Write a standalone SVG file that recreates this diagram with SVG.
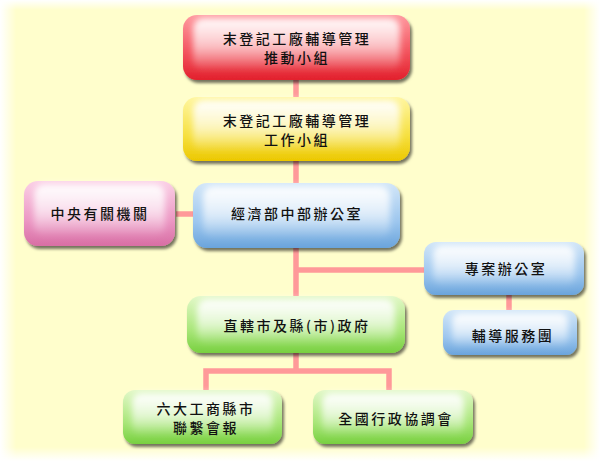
<svg xmlns="http://www.w3.org/2000/svg" width="600" height="461" viewBox="0 0 600 461">
<defs>
<linearGradient id="bgL" x1="0" y1="0" x2="1" y2="0"><stop offset="0" stop-color="#fff" stop-opacity="1"/><stop offset="1" stop-color="#fff" stop-opacity="0"/></linearGradient>
<linearGradient id="bgR" x1="1" y1="0" x2="0" y2="0"><stop offset="0" stop-color="#fff" stop-opacity="1"/><stop offset="1" stop-color="#fff" stop-opacity="0"/></linearGradient>
<linearGradient id="bgT" x1="0" y1="0" x2="0" y2="1"><stop offset="0" stop-color="#fff" stop-opacity="1"/><stop offset="1" stop-color="#fff" stop-opacity="0"/></linearGradient>
<linearGradient id="bgB" x1="0" y1="1" x2="0" y2="0"><stop offset="0" stop-color="#fff" stop-opacity="1"/><stop offset="1" stop-color="#fff" stop-opacity="0"/></linearGradient>
<linearGradient id="gRed" x1="0" y1="0" x2="0" y2="1"><stop offset="0" stop-color="#ff9aa0"/><stop offset="0.6" stop-color="#f2505a"/><stop offset="1" stop-color="#e2202c"/></linearGradient>
<linearGradient id="gYel" x1="0" y1="0" x2="0" y2="1"><stop offset="0" stop-color="#fff6a0"/><stop offset="0.6" stop-color="#f6e040"/><stop offset="1" stop-color="#ecc800"/></linearGradient>
<linearGradient id="gPink" x1="0" y1="0" x2="0" y2="1"><stop offset="0" stop-color="#fbd0e6"/><stop offset="0.6" stop-color="#ec98c4"/><stop offset="1" stop-color="#d86ea4"/></linearGradient>
<linearGradient id="gBlue" x1="0" y1="0" x2="0" y2="1"><stop offset="0" stop-color="#d2e6f8"/><stop offset="0.6" stop-color="#9cc6ee"/><stop offset="1" stop-color="#6aa4dc"/></linearGradient>
<linearGradient id="gGreen" x1="0" y1="0" x2="0" y2="1"><stop offset="0" stop-color="#e2f8c8"/><stop offset="0.6" stop-color="#a8e678"/><stop offset="1" stop-color="#78d040"/></linearGradient>
<linearGradient id="gloss" x1="0" y1="0" x2="0" y2="1"><stop offset="0" stop-color="#fff" stop-opacity="0.95"/><stop offset="0.55" stop-color="#fff" stop-opacity="0.6"/><stop offset="1" stop-color="#fff" stop-opacity="0.05"/></linearGradient>
<filter id="sh" x="-10%" y="-20%" width="125%" height="150%"><feDropShadow dx="2" dy="3" stdDeviation="1.6" flood-color="#000" flood-opacity="0.55"/></filter>
<filter id="bl" x="-10%" y="-20%" width="120%" height="140%"><feGaussianBlur stdDeviation="3"/></filter>
</defs>
<style>
.t{font-family:"Noto Sans CJK TC","Noto Sans CJK SC",sans-serif;font-size:14px;font-weight:500;fill:#111;letter-spacing:2.5px;text-anchor:middle;dominant-baseline:central}
.c{stroke:#ff9999;stroke-width:5.5;fill:none}
.g{fill:url(#gloss);filter:url(#bl)}
</style>
<rect width="600" height="461" fill="#fffecc"/>
<rect width="16" height="461" fill="url(#bgL)"/>
<rect x="584" width="16" height="461" fill="url(#bgR)"/>
<rect width="600" height="10" fill="url(#bgT)"/>
<rect y="447" width="600" height="14" fill="url(#bgB)"/>
<g id="connectors">
<path class="c" d="M296 80V97M296 161V183M176 214H193M296 248V296M296 270H424M509 295V310M296 353V371M206 390V371H389V390"/>
</g>
<g id="n1"><rect x="183" y="15" width="227" height="65" rx="14" fill="url(#gRed)" filter="url(#sh)"/><rect class="g" x="193" y="18" width="207" height="52" rx="10"/><text class="t" x="297" y="37.5">末登記工廠輔導管理</text><text class="t" x="297" y="57">推動小組</text></g>
<g id="n2"><rect x="183" y="97" width="227" height="64" rx="14" fill="url(#gYel)" filter="url(#sh)"/><rect class="g" x="193" y="100" width="207" height="51" rx="10"/><text class="t" x="297" y="120">末登記工廠輔導管理</text><text class="t" x="297" y="139">工作小組</text></g>
<g id="n3"><rect x="24" y="181" width="151" height="65" rx="14" fill="url(#gPink)" filter="url(#sh)"/><rect class="g" x="34" y="184" width="131" height="52" rx="10"/><text class="t" x="100" y="213">中央有關機關</text></g>
<g id="n4"><rect x="193" y="183" width="207" height="65" rx="14" fill="url(#gBlue)" filter="url(#sh)"/><rect class="g" x="203" y="186" width="187" height="52" rx="10"/><text class="t" x="297" y="213">經濟部中部辦公室</text></g>
<g id="n5"><rect x="424" y="242" width="160" height="53" rx="12" fill="url(#gBlue)" filter="url(#sh)"/><rect class="g" x="433" y="245" width="142" height="41" rx="9"/><text class="t" x="506" y="268">專案辦公室</text></g>
<g id="n6"><rect x="443" y="310" width="134" height="45" rx="11" fill="url(#gBlue)" filter="url(#sh)"/><rect class="g" x="452" y="313" width="116" height="34" rx="8"/><text class="t" x="513" y="335">輔導服務團</text></g>
<g id="n7"><rect x="187" y="296" width="218" height="57" rx="14" fill="url(#gGreen)" filter="url(#sh)"/><rect class="g" x="197" y="299" width="198" height="45" rx="10"/><text class="t" x="297" y="325">直轄市及縣(市)政府</text></g>
<g id="n8"><rect x="123" y="390" width="159" height="54" rx="12" fill="url(#gGreen)" filter="url(#sh)"/><rect class="g" x="132" y="393" width="141" height="42" rx="9"/><text class="t" x="206" y="408">六大工商縣市</text><text class="t" x="206" y="427">聯繫會報</text></g>
<g id="n9"><rect x="313" y="390" width="160" height="54" rx="12" fill="url(#gGreen)" filter="url(#sh)"/><rect class="g" x="322" y="393" width="142" height="42" rx="9"/><text class="t" x="396" y="418">全國行政協調會</text></g>
</svg>
